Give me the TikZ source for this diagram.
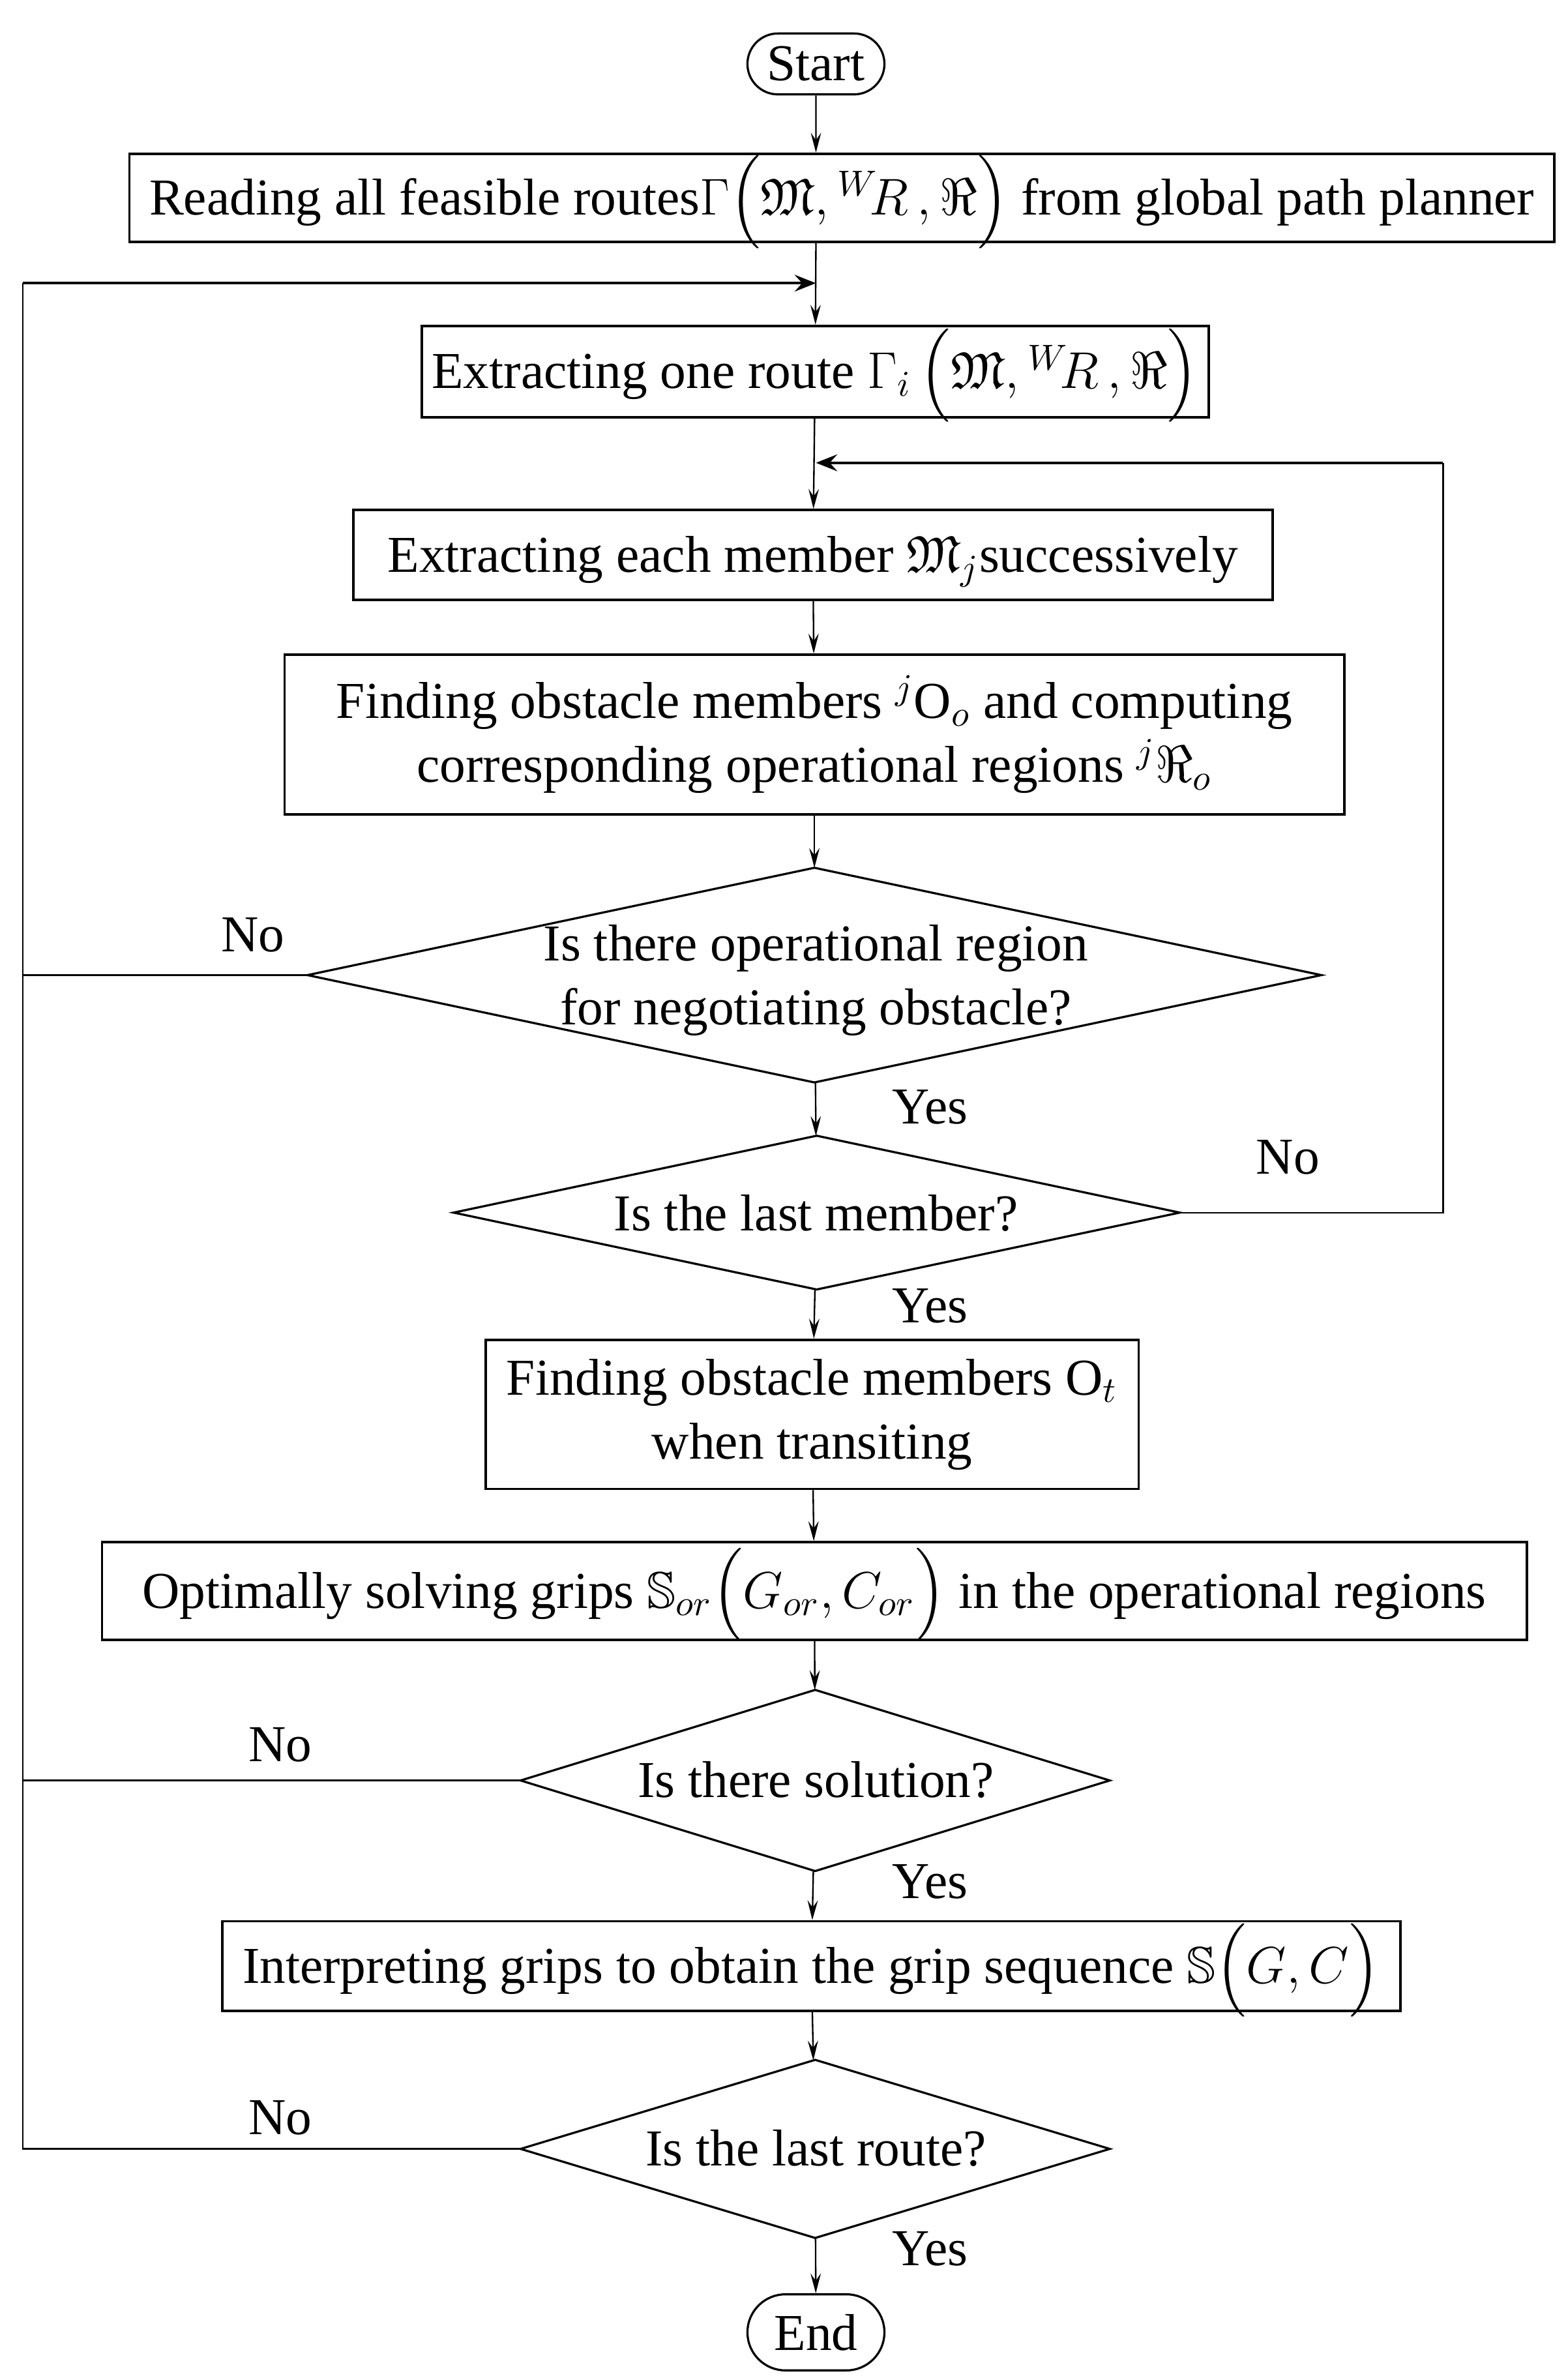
\RequirePackage{fix-cm}
\documentclass[tikz,border=0pt]{standalone}
\usepackage{amsmath,amssymb}
\usepackage{fontspec}
\setmainfont{Liberation Serif}
\usetikzlibrary{shapes.geometric,shapes.misc,arrows.meta}
\begin{document}
\begin{tikzpicture}[x=0.5pt,y=-0.5pt,
  every node/.style={font=\fontsize{17}{21}\selectfont},
  procbox/.style={draw,line width=0.8pt,rectangle,inner sep=2pt,align=center},
  linebox/.style={draw,line width=0.8pt,rectangle,inner xsep=1pt,inner ysep=0pt},
  decbox/.style={draw,line width=0.7pt,diamond,inner sep=0pt,outer sep=0pt},
  termbox/.style={draw,line width=0.7pt,rounded rectangle,minimum width=45pt,inner sep=0pt},
  flow/.style={line width=0.5pt,-{Stealth[length=6.5pt,width=3.4pt,inset=2.4pt]}},
  plain/.style={line width=0.5pt},
  backarrow/.style={line width=0.9pt,-{Stealth[length=7pt,width=5.5pt,inset=2.5pt]}},
  lbl/.style={inner sep=0pt}]
\useasboundingbox (0,0) rectangle (1030,1562);

\node[termbox,minimum height=20pt] (start) at (536,42) {Start};
\node[linebox,minimum width=468pt,text height=20.1pt,text depth=8.9pt] (b1) at (553,130)
  {Reading all feasible routes$\Gamma\Bigl(\mathfrak{M},{}^{W}\!R\,,\Re\Bigr)$ from global path planner};
\node[linebox,minimum width=258.5pt,text height=20.6pt,text depth=9.4pt] (b2) at (535.5,244)
  {Extracting one route $\Gamma_{i}\,\Bigl(\mathfrak{M},{}^{W}\!R\,,\Re\Bigr)$};
\node[linebox,minimum width=302pt,text height=20.35pt,text depth=9.15pt] (b3) at (534,364.5)
  {Extracting each member $\mathfrak{M}_{j}$successively};
\node[procbox,minimum width=348pt,minimum height=52.5pt] (b4) at (535,482.5)
  {Finding obstacle members ${}^{j}\mathrm{O}_{o}$ and computing\\corresponding operational regions ${}^{j}\Re_{o}$};
\node[decbox,minimum width=333pt,minimum height=70.5pt] (d1) at (535,640.5) {};
\node[lbl,align=center] (d1t) at (536,644) {Is there operational region\\for negotiating obstacle?};
\node[decbox,minimum width=238.5pt,minimum height=50.5pt] (d2) at (536.5,796.5) {};
\node[lbl] (d2t) at (536,797) {Is the last member?};
\node[procbox,minimum width=214.5pt,minimum height=49pt] (b5) at (533.5,929)
  {Finding obstacle members $\mathrm{O}_{t}$\\when transiting};
\node[linebox,minimum width=468pt,text height=21.6pt,text depth=10.4pt] (b6) at (535,1045)
  {Optimally solving grips $\mathbb{S}_{or}\Bigl(G_{or},C_{or}\Bigr)$ in the operational regions};
\node[decbox,minimum width=193.5pt,minimum height=59.5pt] (d3) at (535.5,1169.5) {};
\node[lbl] (d3t) at (536,1169) {Is there solution?};
\node[linebox,minimum width=387pt,text height=20.35pt,text depth=9.15pt] (b7) at (533,1291.5)
  {Interpreting grips to obtain the grip sequence $\mathbb{S}\Bigl(G,C\Bigr)$};
\node[decbox,minimum width=193.5pt,minimum height=58.5pt] (d4) at (535.5,1411.5) {};
\node[lbl] (d4t) at (536,1411) {Is the last route?};
\node[termbox,minimum height=25pt] (end) at (536,1532) {End};

% labels
\node[lbl] (n1) at (166,614) {No};
\node[lbl] (y1) at (611,727) {Yes};
\node[lbl] (n2) at (846,760) {No};
\node[lbl] (y2) at (611,858) {Yes};
\node[lbl] (n3) at (184,1146) {No};
\node[lbl] (y3) at (611,1236) {Yes};
\node[lbl] (n4) at (184,1391) {No};
\node[lbl] (y4) at (611,1477) {Yes};

% junction coordinates
\coordinate (j1) at (536,186);
\coordinate (ll) at (15,186);
\coordinate (j2) at (536,304);
\coordinate (rr) at (948,304);

% main flow
\draw[flow] (start) -- (start.south |- b1.north);
\draw[flow] (start.south |- b1.south) -- (b2);
\draw[flow] (b2) -- (b3);
\draw[flow] (b3) -- (b4);
\draw[flow] (b4) -- (d1);
\draw[flow] (d1) -- (d2);
\draw[flow] (d2) -- (b5);
\draw[flow] (b5) -- (b6);
\draw[flow] (b6) -- (d3);
\draw[flow] (d3) -- (b7);
\draw[flow] (b7) -- (d4);
\draw[flow] (d4) -- (end);

% left loop
\draw[plain] (d4.west) -| (ll);
\draw[backarrow] (ll) -- (j1);
\draw[plain] (d1.west) -- (d1.west -| ll);
\draw[plain] (d3.west) -- (d3.west -| ll);

% right loop
\draw[plain] (d2.east) -| (rr);
\draw[backarrow] (rr) -- (j2);
\end{tikzpicture}
\end{document}
